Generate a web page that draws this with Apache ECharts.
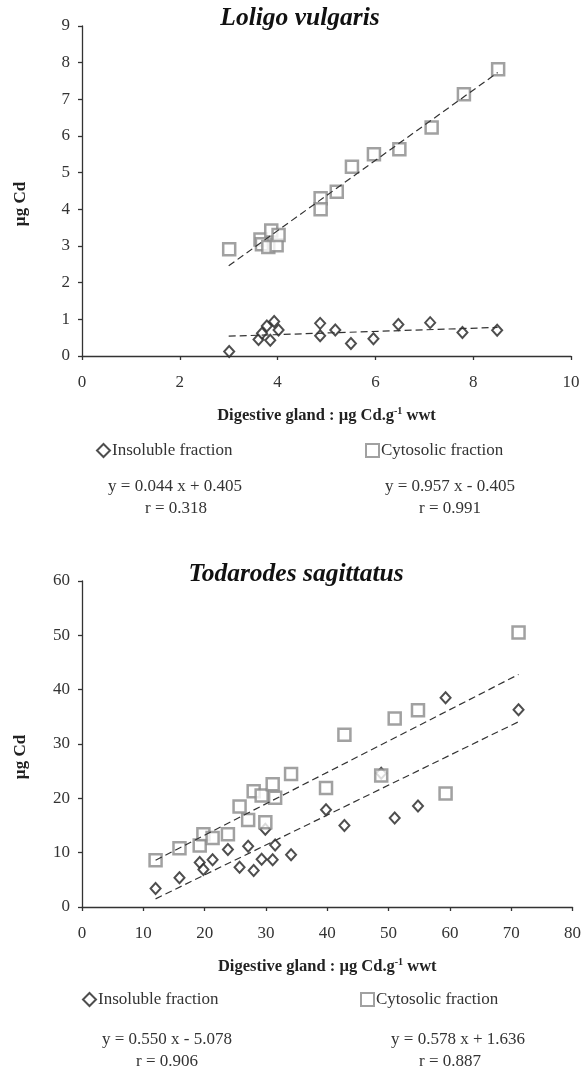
<!DOCTYPE html>
<html>
<head>
<meta charset="utf-8">
<script src="https://cdn.jsdelivr.net/npm/echarts@6/dist/echarts.min.js"></script>
<style>
  html, body { margin: 0; padding: 0; background: #fff; }
  #chart { width: 584px; height: 1070px; }
</style>
</head>
<body>
<div id="chart"></div>
<script>
// Cd dans la glande digestive vs fractions : deux espèces, un graphique chacune

const SERIF = '"Liberation Serif", "DejaVu Serif", serif';
const INK = '#222';
const GREY = '#8a8a8a';
const FS = 17;

// Loligo vulgaris (x = glande digestive, y = µg Cd)
const loligoInsoluble = [
  [3.01, 0.12], [3.61, 0.45], [3.68, 0.62], [3.78, 0.82], [3.85, 0.43], [3.93, 0.94],
  [4.02, 0.71], [4.87, 0.89], [4.87, 0.55], [5.18, 0.71], [5.50, 0.34], [5.96, 0.47],
  [6.47, 0.86], [7.12, 0.91], [7.78, 0.64], [8.49, 0.70],
];
const loligoCytosolic = [
  [3.01, 2.91], [3.65, 3.18], [3.68, 3.05], [3.81, 2.97], [3.87, 3.42], [3.98, 3.02],
  [4.02, 3.30], [4.88, 4.30], [4.88, 4.00], [5.21, 4.48], [5.52, 5.16], [5.97, 5.50],
  [6.49, 5.64], [7.15, 6.23], [7.81, 7.14], [8.51, 7.82],
];
const loligoInsolubleFit = [[3.0, 0.54], [8.5, 0.78]];
const loligoCytosolicFit = [[3.0, 2.46], [8.5, 7.73]];

// Todarodes sagittatus
const todarodesInsoluble = [
  [12.0, 3.4], [15.9, 5.4], [19.2, 8.2], [19.8, 6.9], [21.3, 8.7], [23.8, 10.6],
  [25.7, 7.3], [27.1, 11.2], [28.0, 6.7], [29.3, 8.8], [29.9, 14.3], [31.1, 8.7],
  [31.5, 11.4], [34.1, 9.6], [39.8, 17.9], [42.8, 15.0], [48.8, 24.6], [51.0, 16.4],
  [54.8, 18.6], [59.3, 38.5], [71.2, 36.3],
];
const todarodesCytosolic = [
  [12.0, 8.6], [15.9, 10.8], [19.2, 11.3], [19.8, 13.4], [21.3, 12.7], [23.8, 13.4],
  [25.7, 18.5], [27.1, 16.0], [28.0, 21.3], [29.3, 20.5], [29.9, 15.6], [31.1, 22.6],
  [31.5, 20.1], [34.1, 24.5], [39.8, 21.9], [42.8, 31.7], [48.8, 24.2], [51.0, 34.7],
  [54.8, 36.2], [59.3, 20.9], [71.2, 50.5],
];
const todarodesInsolubleFit = [[12.0, 1.5], [71.2, 34.1]];
const todarodesCytosolicFit = [[12.0, 8.6], [71.2, 42.8]];

const speciesTitles = ['Loligo vulgaris', 'Todarodes sagittatus'];
const xAxisTitle = '{b|Digestive gland : µg Cd.g}{s|-1}{b| wwt}';
const yAxisTitle = 'µg Cd';
const fractionNames = ['Insoluble fraction', 'Cytosolic fraction'];
const equations = [
  ['y = 0.044 x + 0.405', 'r = 0.318', 'y = 0.957 x - 0.405', 'r = 0.991'],
  ['y = 0.550 x - 5.078', 'r = 0.906', 'y = 0.578 x + 1.636', 'r = 0.887'],
];

const chart = echarts.init(document.getElementById('chart'), null, { renderer: 'canvas' });

function valueAxis(gridIndex, min, max, interval, extra) {
  return Object.assign({
    type: 'value',
    gridIndex,
    min,
    max,
    interval,
    splitLine: { show: false },
    axisLine: { show: true, onZero: false, lineStyle: { color: '#333', width: 1.3 } },
    axisTick: { show: true, length: 4, lineStyle: { color: '#333', width: 1.3 } },
  }, extra);
}

function xAxisFor(gridIndex, min, max, interval) {
  return valueAxis(gridIndex, min, max, interval, {
    name: xAxisTitle,
    nameLocation: 'middle',
    nameGap: 50,
    nameTextStyle: {
      rich: {
        b: { fontFamily: SERIF, fontSize: 16.5, fontWeight: 'bold', color: '#222' },
        s: { fontFamily: SERIF, fontSize: 10, fontWeight: 'bold', color: '#222', padding: [0, 0, 10, 0] },
      },
    },
    axisLabel: { fontFamily: SERIF, fontSize: FS, color: '#333', margin: 18 },
  });
}

function yAxisFor(gridIndex, min, max, interval) {
  return valueAxis(gridIndex, min, max, interval, {
    name: yAxisTitle,
    nameLocation: 'middle',
    nameGap: 53,
    nameRotate: 90,
    nameTextStyle: {
      fontFamily: SERIF, fontSize: FS, fontWeight: 'bold', color: '#222',
      padding: [0, 26, 0, 0],
    },
    axisLabel: { fontFamily: SERIF, fontSize: FS, color: '#333', margin: 12 },
  });
}

function pointSeries(name, idx, data, isSquare, size) {
  return {
    name,
    type: 'scatter',
    xAxisIndex: idx,
    yAxisIndex: idx,
    data,
    symbol: isSquare ? 'rect' : 'diamond',
    symbolSize: isSquare ? size : [size, size + 1],
    itemStyle: isSquare
      ? { color: '#fff', borderColor: GREY, borderWidth: 2.5 }
      : { color: '#fff', borderColor: INK, borderWidth: 2 },
    z: isSquare ? 4 : 3,
    silent: true,
  };
}

function fitSeries(idx, data) {
  return {
    type: 'line',
    xAxisIndex: idx,
    yAxisIndex: idx,
    data,
    symbol: 'none',
    lineStyle: { color: '#333', width: 1.2, type: [7, 4] },
    z: 5,
    silent: true,
  };
}

function legendFor(name, left, top) {
  return {
    data: [name],
    left,
    top,
    itemWidth: 13,
    itemHeight: 13,
    itemGap: 0,
    padding: 0,
    selectedMode: false,
    textStyle: { fontFamily: SERIF, fontSize: FS, color: '#333', padding: [0, 0, 0, -3] },
  };
}

function eqText(text, x, y) {
  return {
    type: 'text',
    x,
    y,
    style: {
      text,
      fontFamily: SERIF,
      fontSize: FS,
      fill: '#333',
      align: 'center',
      verticalAlign: 'middle',
    },
  };
}

const eqPos = [
  [[175, 487], [176, 509], [450, 487], [450, 509]],
  [[167, 1040], [167, 1062], [458, 1040], [450, 1062]],
];

chart.setOption({
  animation: false,
  backgroundColor: '#fff',
  title: [
    { text: speciesTitles[0], left: 295, top: 0, textAlign: 'center',
      textStyle: { fontFamily: SERIF, fontSize: 25.5, fontWeight: 'bold', fontStyle: 'italic', color: '#111' } },
    { text: speciesTitles[1], left: 291, top: 556, textAlign: 'center',
      textStyle: { fontFamily: SERIF, fontSize: 25.5, fontWeight: 'bold', fontStyle: 'italic', color: '#111' } },
  ],
  grid: [
    { left: 82, right: 13, top: 26, height: 330 },
    { left: 82, right: 8, top: 581, height: 326 },
  ],
  xAxis: [xAxisFor(0, 0, 10, 2), xAxisFor(1, 0, 80, 10)],
  yAxis: [yAxisFor(0, 0, 9, 1), yAxisFor(1, 0, 60, 10)],
  legend: [
    legendFor(fractionNames[0], 96, 442),
    legendFor(fractionNames[1], 365, 442),
    legendFor(fractionNames[0], 82, 991),
    legendFor(fractionNames[1], 360, 991),
  ],
  series: [
    pointSeries(fractionNames[0], 0, loligoInsoluble, false, 10),
    pointSeries(fractionNames[1], 0, loligoCytosolic, true, 12),
    fitSeries(0, loligoInsolubleFit),
    fitSeries(0, loligoCytosolicFit),
    pointSeries(fractionNames[0], 1, todarodesInsoluble, false, 10),
    pointSeries(fractionNames[1], 1, todarodesCytosolic, true, 12),
    fitSeries(1, todarodesInsolubleFit),
    fitSeries(1, todarodesCytosolicFit),
  ],
  graphic: equations.flatMap((row, i) => row.map((t, j) => eqText(t, eqPos[i][j][0], eqPos[i][j][1]))),
});
</script>
</body>
</html>
